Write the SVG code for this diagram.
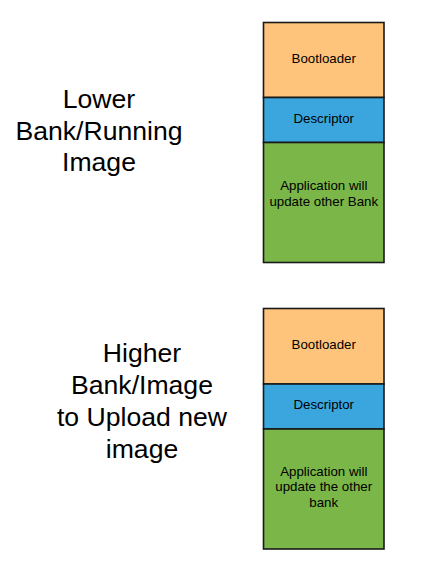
<svg xmlns="http://www.w3.org/2000/svg" width="435" height="561" viewBox="0 0 435 561">
<style>
.big{font-family:"Liberation Sans",Arial,sans-serif;font-size:26.6px;fill:#000;text-anchor:middle}
.lbl{font-family:"Liberation Sans",Arial,sans-serif;font-size:13.3px;fill:#000;text-anchor:middle}
.box{stroke:#1a1a1a;stroke-width:1.6}
.boot{fill:#FFC47C}
.desc{fill:#3AA6DD}
.app{fill:#7AB648}
</style>
<rect width="435" height="561" fill="#fff"/>
<g id="label-lower">
<text class="big" x="99" y="108">Lower</text>
<text class="big" x="99" y="139.5">Bank/Running</text>
<text class="big" x="99" y="171">Image</text>
</g>
<g id="label-higher">
<text class="big" x="142" y="362">Higher</text>
<text class="big" x="142" y="394">Bank/Image</text>
<text class="big" x="142" y="426">to Upload new</text>
<text class="big" x="142" y="458">image</text>
</g>
<g id="lower-bootloader">
<rect class="box boot" x="263.5" y="22.5" width="120.5" height="75"/>
<text class="lbl" x="323.75" y="63">Bootloader</text>
</g>
<g id="lower-descriptor">
<rect class="box desc" x="263.5" y="97.5" width="120.5" height="45"/>
<text class="lbl" x="323.75" y="123">Descriptor</text>
</g>
<g id="lower-application">
<rect class="box app" x="263.5" y="142.5" width="120.5" height="120"/>
<text class="lbl" x="323.75" y="190">Application will</text>
<text class="lbl" x="323.75" y="206">update other Bank</text>
</g>
<g id="higher-bootloader">
<rect class="box boot" x="263.5" y="308.5" width="120.5" height="75.5"/>
<text class="lbl" x="323.75" y="349">Bootloader</text>
</g>
<g id="higher-descriptor">
<rect class="box desc" x="263.5" y="384" width="120.5" height="45"/>
<text class="lbl" x="323.75" y="409">Descriptor</text>
</g>
<g id="higher-application">
<rect class="box app" x="263.5" y="429" width="120.5" height="120"/>
<text class="lbl" x="323.75" y="475.5">Application will</text>
<text class="lbl" x="323.75" y="491">update the other</text>
<text class="lbl" x="323.75" y="506.5">bank</text>
</g>
<g id="connectors"></g>
</svg>
